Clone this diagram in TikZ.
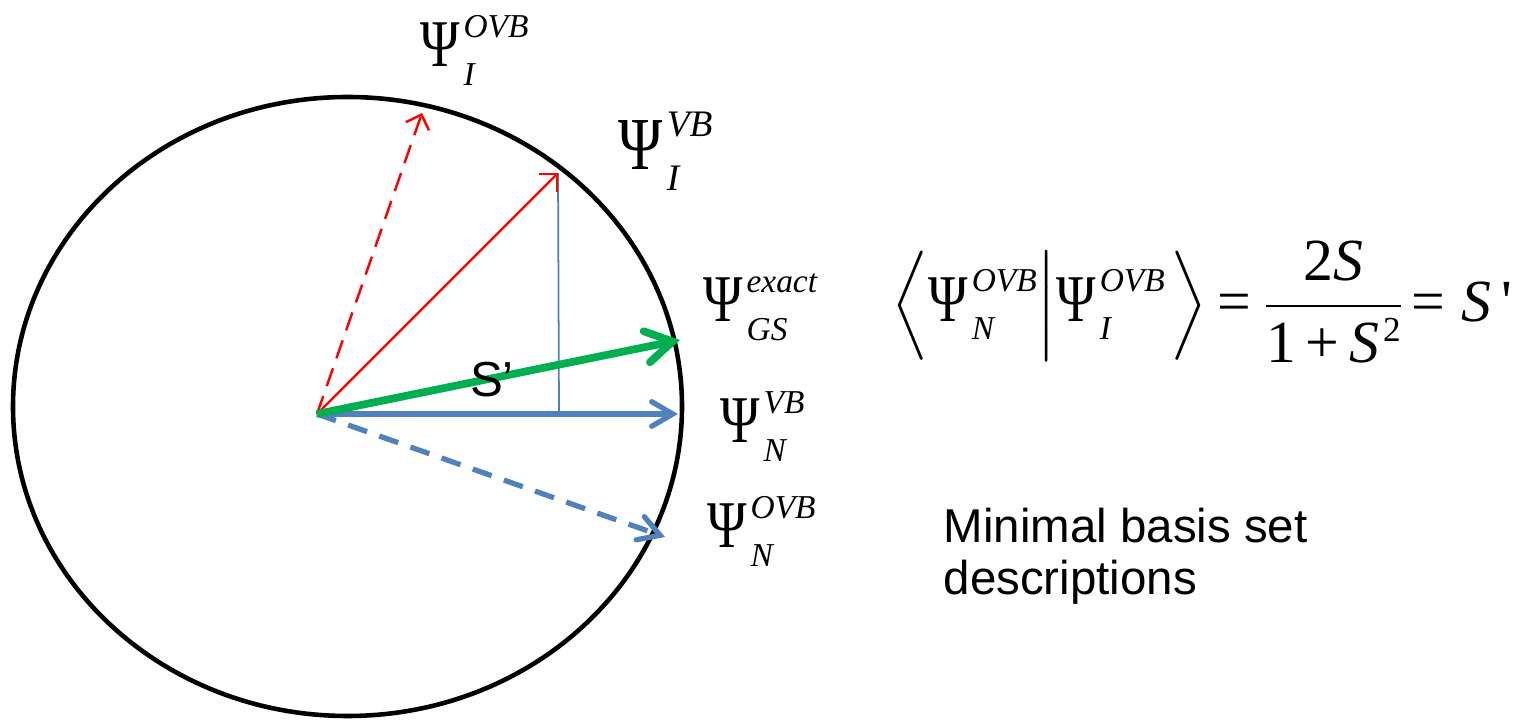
\documentclass[tikz,border=0pt]{standalone}
\usepackage{amsmath}
\usepackage{graphicx}
\usepackage{fontspec}
\setmainfont{Liberation Serif}
\setsansfont{Liberation Sans}
\usetikzlibrary{arrows.meta}

\definecolor{vbblue}{RGB}{79,129,189}
\definecolor{exgreen}{RGB}{0,176,80}

% wave function symbol with stacked super- and subscript
\newcommand{\wf}[2]{{\fontsize{19}{20}\selectfont\scalebox{0.8}[1]{Ψ}}{\fontsize{9.5}{10}\selectfont\itshape\kern1pt\ooalign{\raisebox{8.5pt}{#1}\cr\raisebox{-5.3pt}{#2}\cr}}}

\begin{document}
\begin{tikzpicture}[
        wflabel/.style={anchor=base west, inner sep=0pt},
        vbvec/.style={vbblue, line width=1.5pt, -{Straight Barb[length=6pt,width=7pt,line cap=round]}},
        ivec/.style={red, line width=0.7pt, -{Straight Barb[length=3.5pt,width=7pt]}}
    ]
    \useasboundingbox (0,0) rectangle (15.13,7.22);

    \draw[line width=1.3pt] (3.475,3.155) ellipse [x radius=3.345, y radius=3.095];

    \coordinate (O) at (3.17,3.08);
    \coordinate (iovb) at (4.22,6.09);
    \coordinate (ivb) at (5.58,5.49);
    \coordinate (gs) at (6.80,3.82);
    \coordinate (nvb) at (6.78,3.08);
    \coordinate (novb) at (6.65,1.85);
    \coordinate (foot) at (5.59,3.08);

    \draw[vbblue, line width=0.5pt] (ivb) -- (foot);
    \draw[ivec, dash pattern=on 5.4pt off 3pt] (O) -- (iovb);
    \draw[ivec] (O) -- (ivb);
    \draw[vbvec, dash pattern=on 5.7pt off 3.7pt] (O) -- (novb);
    \draw[vbvec] (O) -- (nvb);
    \draw[exgreen, line width=2.2pt, -{Straight Barb[length=7.5pt,width=9pt,line cap=round]}] (O) -- (gs);

    \node[font=\sffamily\fontsize{14}{16}\selectfont] (sprime) at (4.92,3.42) {S’};

    \node[wflabel] (l-iovb) at (4.20,6.55) {\wf{OVB}{I}};
    \node[wflabel] (l-ivb) at (6.18,5.52) {\scalebox{1.12}{\wf{VB}{I}}};
    \node[wflabel] (l-gs) at (7.03,4.00) {\wf{exact}{GS}};
    \node[wflabel] (l-nvb) at (7.20,2.79) {\wf{VB}{N}};
    \node[wflabel] (l-novb) at (7.07,1.74) {\wf{OVB}{N}};

    \node[anchor=west, inner sep=0pt, font=\fontsize{17}{18}\selectfont] (overlap) at (8.91,4.20)
        {$\left\langle\vphantom{\rule[-10pt]{0pt}{26pt}}\text{\wf{OVB}{N}}\middle|\text{\wf{OVB}{I}\hspace{1.5pt}}\right\rangle$\hspace{3pt}=\hspace{3pt}%
         $\dfrac{\text{\fontsize{17}{18}\selectfont 2\textit{S}}}{\text{\fontsize{17}{18}\selectfont 1\,+\,\textit{S}\kern1pt\raisebox{6pt}{\fontsize{10}{11}\selectfont 2}}}$\hspace{2pt}=\hspace{4.5pt}\textit{S}\,\textquotesingle};

    \node[anchor=north west, inner sep=0pt, align=left, font=\sffamily\fontsize{13.5}{14.8}\selectfont] (minimal) at (9.43,2.15)
        {Minimal basis set\\descriptions};
\end{tikzpicture}
\end{document}
